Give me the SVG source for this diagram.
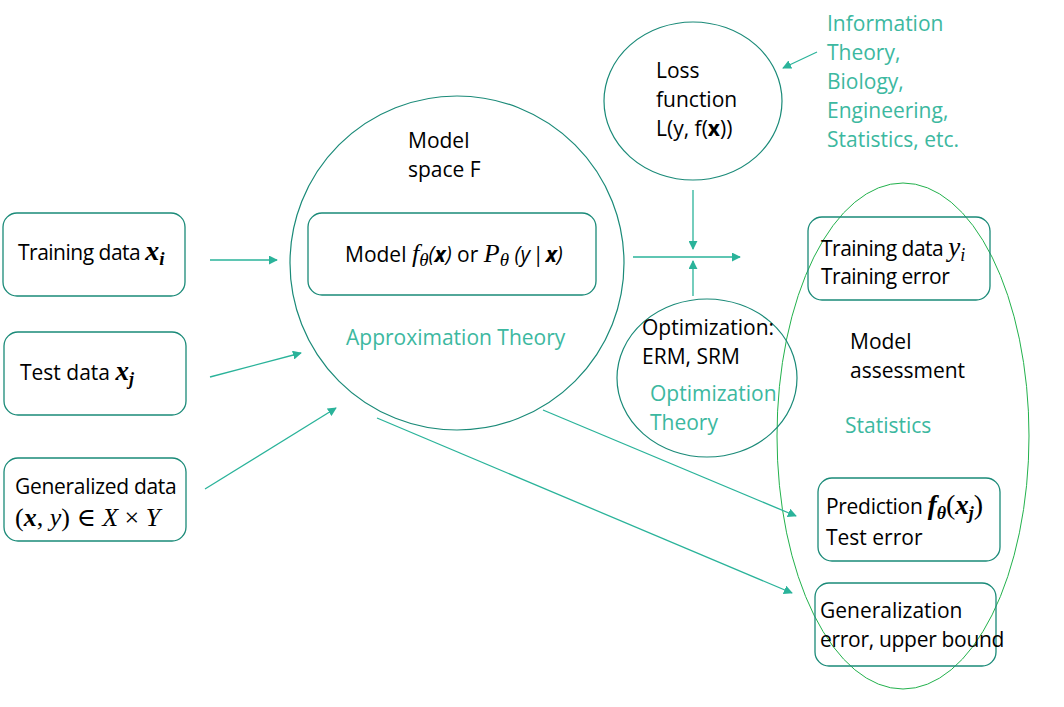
<svg xmlns="http://www.w3.org/2000/svg" width="1064" height="707" viewBox="0 0 1064 707">
<defs>
<style>
.box{fill:none;stroke:#1a8a78;stroke-width:1.3}
.ell{fill:none;stroke:#1a8a78;stroke-width:1.2}
.big{fill:none;stroke:#22b14c;stroke-width:1}
.t{font-family:"Open Sans","Liberation Sans",sans-serif;font-size:21px;fill:#000}
.tt{font-family:"Open Sans","Liberation Sans",sans-serif;font-size:21px;fill:#3cb8a0}
.m{font-family:"Liberation Serif","DejaVu Serif",serif;font-style:italic}
.mb{font-family:"Liberation Serif","DejaVu Serif",serif;font-style:italic;font-weight:bold}
.s{font-family:"Liberation Serif","DejaVu Serif",serif}
.conn line{stroke:#2ab39a;stroke-width:1.3}
</style>
<marker id="ah" viewBox="0 0 10 10" refX="9" refY="5" markerWidth="9" markerHeight="9" markerUnits="userSpaceOnUse" orient="auto">
<path d="M0,0 L10,5 L0,10 z" fill="#2ab39a"/>
</marker>
</defs>
<rect width="1064" height="707" fill="#fff"/>

<g id="assessment-region">
<ellipse class="big" cx="903" cy="436" rx="126" ry="253"/>
</g>

<g id="training-data">
<rect class="box" x="3" y="213" width="182" height="83" rx="14"/>
<text class="t" x="18" y="260" letter-spacing="-0.5">Training data <tspan class="mb" font-size="28" letter-spacing="0">x</tspan><tspan class="mb" font-size="19" dy="5">i</tspan></text>
</g>

<g id="test-data">
<rect class="box" x="4" y="332" width="182" height="83" rx="14"/>
<text class="t" x="20" y="380">Test data <tspan class="mb" font-size="27">x</tspan><tspan class="mb" font-size="18" dy="5">j</tspan></text>
</g>

<g id="generalized-data">
<rect class="box" x="4" y="458" width="182" height="83" rx="14"/>
<text class="t" x="15" y="494" letter-spacing="-0.3">Generalized data</text>
<text class="t" x="15" y="526" style="font-size:26px"><tspan class="s">(</tspan><tspan class="mb">x</tspan><tspan class="s">, </tspan><tspan class="m">y</tspan><tspan class="s">) ∈ </tspan><tspan class="m">X</tspan><tspan class="s"> × </tspan><tspan class="m">Y</tspan></text>
</g>

<g id="model-space">
<ellipse class="ell" cx="457" cy="263" rx="167" ry="167"/>
<text class="t" x="408" y="148">Model</text>
<text class="t" x="408" y="177">space F</text>
<text class="tt" x="346" y="345">Approximation Theory</text>
</g>

<g id="model">
<rect class="box" x="308" y="213" width="288" height="82" rx="14"/>
<text class="t" x="345" y="262">Model <tspan class="m" font-size="26">f</tspan><tspan class="m" font-size="19" dy="4">θ</tspan><tspan dy="-4" font-style="italic">(</tspan><tspan font-weight="bold" font-style="italic">x</tspan><tspan font-style="italic">)</tspan> or <tspan class="m" font-size="26">P</tspan><tspan class="m" font-size="19" dy="4">θ</tspan><tspan dy="-4" font-style="italic"> (y</tspan><tspan font-style="italic" dx="2">|</tspan><tspan font-weight="bold" font-style="italic" dx="2">x</tspan><tspan font-style="italic">)</tspan></text>
</g>

<g id="loss-function">
<ellipse class="ell" cx="693" cy="101" rx="89" ry="79"/>
<text class="t" x="656" y="78">Loss</text>
<text class="t" x="656" y="107">function</text>
<text class="t" x="656" y="136">L(y, f(<tspan font-weight="bold">x</tspan>))</text>
</g>

<g id="fields">
<text class="tt" x="827" y="31">Information</text>
<text class="tt" x="827" y="60">Theory,</text>
<text class="tt" x="827" y="89">Biology,</text>
<text class="tt" x="827" y="118">Engineering,</text>
<text class="tt" x="827" y="147">Statistics, etc.</text>
</g>

<g id="optimization">
<ellipse class="ell" cx="707" cy="378" rx="90" ry="79"/>
<text class="t" x="642" y="335">Optimization:</text>
<text class="t" x="642" y="364">ERM, SRM</text>
<text class="tt" x="650" y="401">Optimization</text>
<text class="tt" x="650" y="430">Theory</text>
</g>

<g id="training-error">
<rect class="box" x="808" y="217" width="182" height="83" rx="14"/>
<text class="t" x="821" y="256" letter-spacing="-0.5">Training data <tspan class="m" font-size="27" letter-spacing="0">y</tspan><tspan class="m" font-size="18" dy="5">i</tspan></text>
<text class="t" x="821" y="284" letter-spacing="-0.5">Training error</text>
</g>

<g id="model-assessment">
<text class="t" x="850" y="349">Model</text>
<text class="t" x="850" y="378">assessment</text>
<text class="tt" x="845" y="433">Statistics</text>
</g>

<g id="prediction">
<rect class="box" x="818" y="478" width="182" height="83" rx="14"/>
<text class="t" x="826" y="514" letter-spacing="-0.3">Prediction <tspan class="mb" font-size="27" letter-spacing="0">f</tspan><tspan class="mb" font-size="18" dy="5" letter-spacing="0">θ</tspan><tspan dy="-5" class="s" font-size="28" letter-spacing="0">(</tspan><tspan class="mb" font-size="27" letter-spacing="0">x</tspan><tspan class="mb" font-size="18" dy="5" letter-spacing="0">j</tspan><tspan dy="-5" class="s" font-size="28" letter-spacing="0">)</tspan></text>
<text class="t" x="826" y="545">Test error</text>
</g>

<g id="generalization">
<rect class="box" x="815" y="583" width="181" height="83" rx="14"/>
<text class="t" x="820" y="618">Generalization</text>
<text class="t" x="820" y="647" letter-spacing="-0.3">error, upper bound</text>
</g>

<g id="connectors" class="conn">
<line x1="210" y1="260" x2="277" y2="260" marker-end="url(#ah)"/>
<line x1="210" y1="377" x2="301" y2="353" marker-end="url(#ah)"/>
<line x1="205" y1="489" x2="336" y2="408" marker-end="url(#ah)"/>
<line x1="543" y1="410" x2="796" y2="516" marker-end="url(#ah)"/>
<line x1="377" y1="418" x2="792" y2="593" marker-end="url(#ah)"/>
<line x1="817" y1="52" x2="783" y2="68" marker-end="url(#ah)"/>
<line x1="693" y1="190" x2="693" y2="249" marker-end="url(#ah)"/>
<line x1="693" y1="296" x2="693" y2="261" marker-end="url(#ah)"/>
<line x1="633" y1="257" x2="740" y2="257" marker-end="url(#ah)"/>
</g>
</svg>
